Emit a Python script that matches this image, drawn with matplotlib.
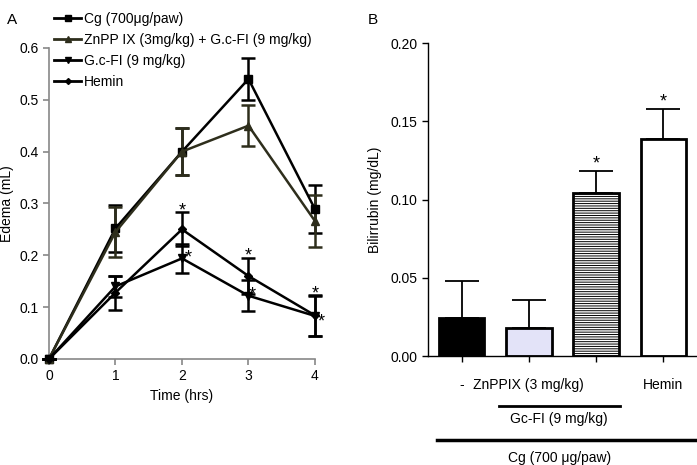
import matplotlib
matplotlib.use("Agg")
import matplotlib.pyplot as plt
from matplotlib.lines import Line2D

plt.rcParams['font.family'] = ['Liberation Sans', 'DejaVu Sans']
plt.rcParams['hatch.linewidth'] = 0.7

# ---- Panel A data ----
time_hrs = [0, 1, 2, 3, 4]
series_labels = ["Cg (700\u03bcg/paw)", "ZnPP IX (3mg/kg) + G.c-FI (9 mg/kg)",
                 "G.c-FI (9 mg/kg)", "Hemin"]
cg_vals = [0.0, 0.252, 0.400, 0.540, 0.289]
cg_err = [0.0, 0.045, 0.045, 0.040, 0.046]
znpp_vals = [0.0, 0.245, 0.400, 0.450, 0.266]
znpp_err = [0.0, 0.048, 0.045, 0.040, 0.050]
gcfi_vals = [0.0, 0.140, 0.194, 0.122, 0.083]
gcfi_err = [0.0, 0.020, 0.028, 0.030, 0.038]
hemin_vals = [0.0, 0.128, 0.250, 0.160, 0.084]
hemin_err = [0.0, 0.033, 0.033, 0.034, 0.039]
a_yticks = [0.0, 0.1, 0.2, 0.3, 0.4, 0.5, 0.6]
# significance stars (x, y of the star's centre)
a_star_x = [2.0, 2.09, 3.0, 3.05, 4.0, 4.1]
a_star_y = [0.297, 0.207, 0.210, 0.135, 0.137, 0.083]

# ---- Panel B data ----
b_categories = ["-", "ZnPPIX (3 mg/kg)", "", "Hemin"]
b_vals = [0.024, 0.018, 0.104, 0.139]
b_err = [0.024, 0.0175, 0.0145, 0.019]
b_star_idx = [2, 3]
b_yticks = [0.00, 0.05, 0.10, 0.15, 0.20]

fig = plt.figure(figsize=(6.97, 4.65), dpi=100)

# ================= Panel A =================
axA = fig.add_axes([0.0703, 0.228, 0.3816, 0.669])
spine_gray = '#888888'
styles = [
    (cg_vals, cg_err, 's', 'black', 'black'),
    (znpp_vals, znpp_err, '^', '#2e2e1c', '#2e2e1c'),
    (gcfi_vals, gcfi_err, 'v', 'black', 'black'),
    (hemin_vals, hemin_err, 'D', 'black', 'black'),
]
msizes = [6, 6, 6, 4]
for (vals, err, mk, col, ecol), ms in zip(styles, msizes):
    axA.errorbar(time_hrs, vals, yerr=err, fmt='-', marker=mk, color=col,
                 ecolor=ecol, lw=1.8, ms=ms, capsize=5, capthick=1.8,
                 elinewidth=1.8, clip_on=False, zorder=3)
star_dy = 0.012  # the '*' glyph sits high in its text box
for sx, sy in zip(a_star_x, a_star_y):
    axA.text(sx, sy - star_dy, '*', ha='center', va='center', fontsize=13)

axA.set_xlim(0, 4)
axA.set_ylim(0, 0.6)
axA.set_xticks(time_hrs)
axA.set_yticks(a_yticks)
axA.set_yticklabels([f"{v:.1f}" for v in a_yticks])
for s in ['top', 'right']:
    axA.spines[s].set_visible(False)
for s in ['left', 'bottom']:
    axA.spines[s].set_color(spine_gray)
    axA.spines[s].set_linewidth(1.2)
axA.tick_params(axis='both', colors=spine_gray, labelcolor='black',
                labelsize=10, length=4, width=1.2)
axA.set_xlabel("Time (hrs)", fontsize=10, labelpad=4)
axA.set_ylabel("Edema (mL)", fontsize=10, labelpad=4)

handles = []
for (vals, err, mk, col, ecol), ms in zip(styles, msizes):
    handles.append(Line2D([], [], color=col, marker=mk, lw=2, ms=ms - 1))
fig.legend(handles, series_labels, loc='upper left',
           bbox_to_anchor=(0.066, 0.992), frameon=False, fontsize=10,
           handlelength=1.9, handletextpad=0.25, labelspacing=0.5,
           borderaxespad=0.2)

fig.text(0.010, 0.972, "A", fontsize=11, va='top')

# ================= Panel B =================
axB = fig.add_axes([0.614, 0.2344, 0.386, 0.673])
xpos = list(range(len(b_vals)))
fcols = ['black', '#e3e3f8', 'white', 'white']
hatches = [None, None, '-------', None]
for i in xpos:
    axB.bar(i, b_vals[i], width=0.68, color=fcols[i], edgecolor='black',
            linewidth=2, hatch=hatches[i], zorder=2)
axB.errorbar(xpos, b_vals, yerr=[[0] * len(b_err), b_err], fmt='none',
             ecolor='black', elinewidth=1.3, capsize=12, capthick=1.3, zorder=1)
for i in b_star_idx:
    axB.text(i, b_vals[i] + b_err[i] + 0.0045, '*', ha='center',
             va='center', fontsize=13)
axB.set_xlim(-0.5, 3.5)
axB.set_ylim(0, 0.2)
axB.set_yticks(b_yticks)
axB.set_yticklabels([f"{v:.2f}" for v in b_yticks])
axB.set_xticks(xpos)
axB.set_xticklabels(b_categories)
for s in ['top', 'right']:
    axB.spines[s].set_visible(False)
axB.spines['left'].set_linewidth(1.0)
axB.spines['bottom'].set_linewidth(1.0)
axB.tick_params(axis='both', labelsize=10, length=4, width=1.0)
axB.tick_params(axis='x', pad=12)
axB.set_ylabel("Bilirrubin (mg/dL)", fontsize=10, labelpad=6)

# group annotation lines under panel B
tr = axB.get_xaxis_transform()
axB.plot([0.55, 2.35], [-0.16, -0.16], transform=tr, color='black', lw=2,
         clip_on=False)
axB.text(1.45, -0.20, "Gc-FI (9 mg/kg)", transform=tr, ha='center',
         va='center', fontsize=10)
axB.plot([-0.36, 3.5], [-0.27, -0.27], transform=tr, color='black', lw=2.5,
         clip_on=False)
axB.text(1.45, -0.325, "Cg (700 \u03bcg/paw)", transform=tr, ha='center',
         va='center', fontsize=10)

fig.text(0.528, 0.972, "B", fontsize=11, va='top')

fig.savefig("out.png", dpi=100)
